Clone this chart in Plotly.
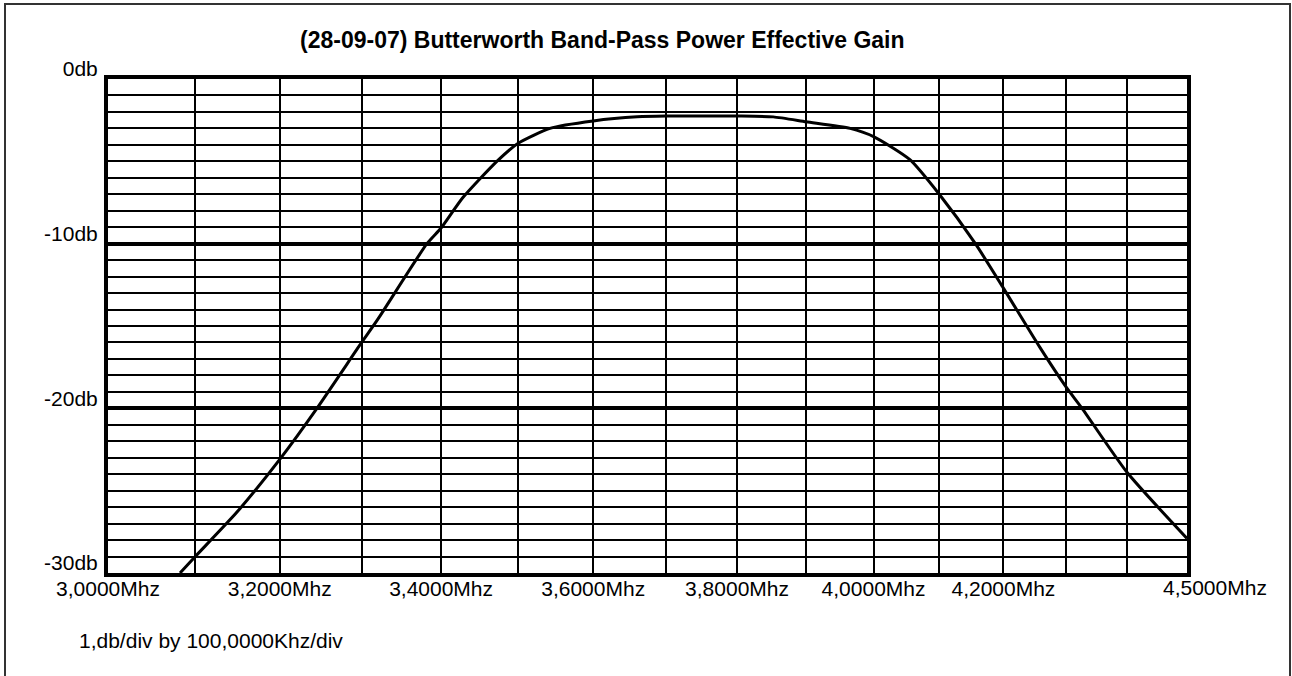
import math
import plotly.graph_objects as go

# ---- data ----
freq_mhz = [3.0823, 3.100, 3.149, 3.200, 3.245, 3.300, 3.320, 3.382, 3.400, 3.428,
            3.472, 3.500, 3.542, 3.600, 3.660, 3.700, 3.800, 3.852, 3.900, 3.965,
            4.000, 4.055, 4.100, 4.156, 4.200, 4.258, 4.300, 4.326, 4.400, 4.500]
gain_db = [-30.0, -29.0, -26.3, -23.1, -20.0, -16.0, -14.6, -10.0, -9.05, -7.2,
           -5.0, -3.9, -3.0, -2.55, -2.3, -2.25, -2.25, -2.3, -2.6, -3.0,
           -3.5, -4.9, -7.0, -10.0, -12.7, -16.3, -18.7, -20.0, -23.9, -27.9]

x_grid_vals = [3.0, 3.1, 3.2, 3.3, 3.4, 3.5, 3.6, 3.7, 3.8, 3.9, 4.0, 4.1, 4.2, 4.3, 4.4, 4.5]
x_tick_labels = ["3,0000Mhz", "", "3,2000Mhz", "", "3,4000Mhz", "", "3,6000Mhz", "",
                 "3,8000Mhz", "", "4,0000Mhz", "", "4,2000Mhz", "", "", ""]
last_x_label = "4,5000Mhz"
y_major_vals = [0, -10, -20, -30]
y_major_labels = ["0db", "-10db", "-20db", "-30db"]

title_text = "(28-09-07) Butterworth Band-Pass Power Effective Gain"
footnote_text = "1,db/div by 100,0000Khz/div"

FONT = "Liberation Sans"
FS = 21

fig = go.Figure()
fig.add_trace(go.Scatter(
    x=freq_mhz, y=gain_db, mode="lines",
    line=dict(color="black", width=3, shape="spline", smoothing=0.6),
    showlegend=False, hoverinfo="skip",
))

fig.update_layout(
    width=1292, height=676,
    margin=dict(l=108, r=105, t=79, b=103, autoexpand=False),
    paper_bgcolor="white", plot_bgcolor="white",
    showlegend=False,
    font=dict(family=FONT, size=FS, color="black"),
)

fig.update_xaxes(
    type="log",
    range=[math.log10(3.0) - 1e-6, math.log10(4.5) + 1e-6],
    tickmode="array", tickvals=x_grid_vals, ticktext=x_tick_labels,
    showgrid=True, gridcolor="black", gridwidth=2,
    showline=True, linecolor="black", linewidth=4, mirror=True,
    ticks="", zeroline=False, ticklabelstandoff=-6, automargin=False,
    tickfont=dict(family=FONT, size=FS),
)
fig.update_yaxes(
    range=[-30, 0],
    tickmode="array", tickvals=y_major_vals, ticktext=y_major_labels,
    showgrid=True, gridcolor="black", gridwidth=3.5,
    minor=dict(dtick=1, showgrid=True, gridcolor="black", gridwidth=2, tick0=0),
    showline=True, linecolor="black", linewidth=4, mirror=True,
    ticks="", zeroline=False, ticklabelshift=-10, ticklabelstandoff=2,
    automargin=False,
    tickfont=dict(family=FONT, size=FS),
)

# last x label sits right of its grid line in the reference
fig.add_annotation(
    x=math.log10(4.5), xref="x", y=0, yref="paper",
    text=last_x_label, showarrow=False, xanchor="center", yanchor="top",
    xshift=28, yshift=-1, font=dict(family=FONT, size=FS),
)

# title
fig.add_annotation(
    x=(602 - 108) / 1079, xref="paper", y=1.0, yref="paper",
    text="<b>" + title_text + "</b>", showarrow=False,
    xanchor="center", yanchor="middle", yshift=39,
    font=dict(family=FONT, size=23),
)

# footnote
fig.add_annotation(
    x=(77 - 108) / 1079, xref="paper", y=(573 - 640) / 494, yref="paper",
    text=footnote_text, showarrow=False, xanchor="left", yanchor="middle",
    font=dict(family=FONT, size=FS),
)

# outer frame
fig.add_shape(
    type="rect", xref="paper", yref="paper",
    x0=(5 - 108) / 1079, x1=(1290 - 108) / 1079,
    y0=(573 - 690) / 494, y1=(573 - 4) / 494,
    line=dict(color="#333333", width=2), fillcolor="rgba(0,0,0,0)", layer="below",
)

fig.write_html(
    "out.html",
    config={"displayModeBar": False},
    post_script="document.body.style.margin='0';document.body.style.overflow='hidden';",
)
